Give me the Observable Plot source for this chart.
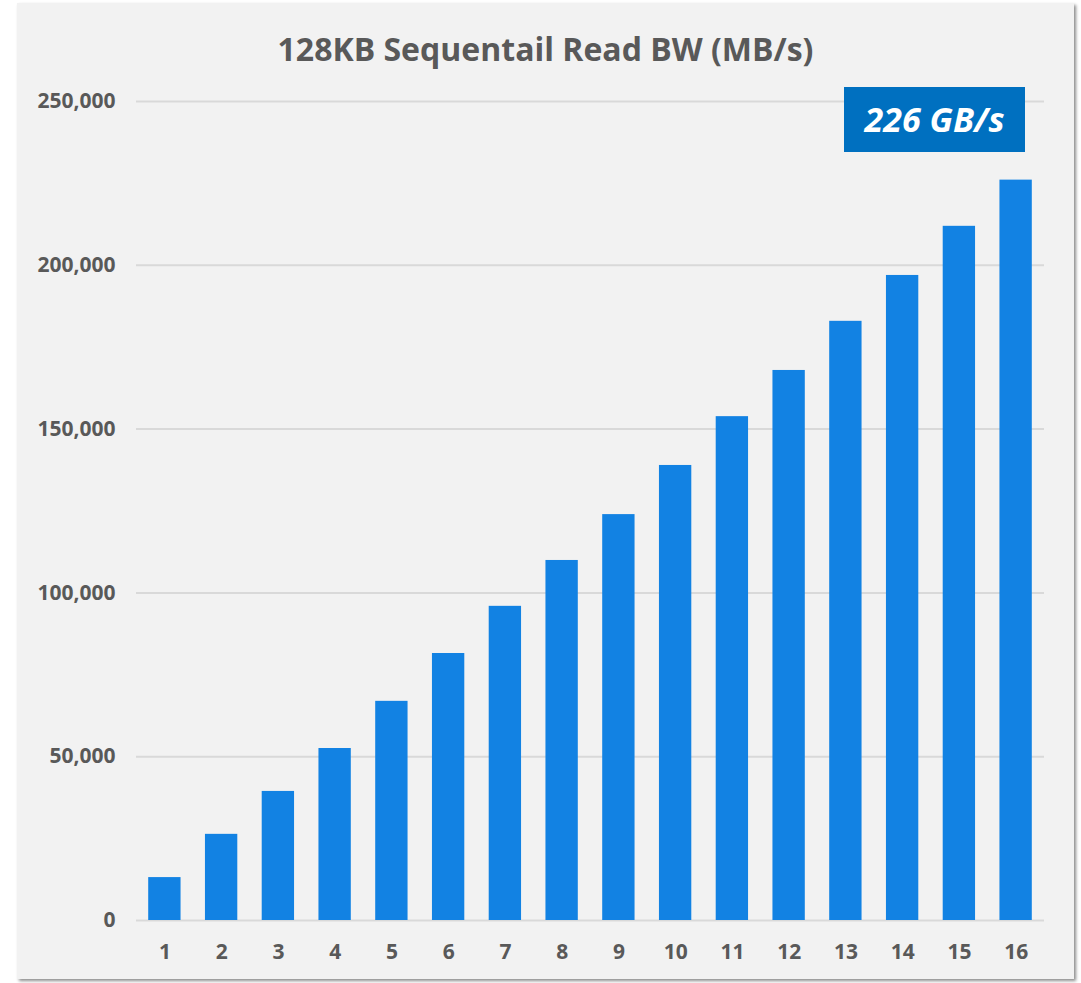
<!DOCTYPE html>
<html>
<head>
<meta charset="utf-8">
<script src="https://cdn.jsdelivr.net/npm/d3@7"></script>
<script src="https://cdn.jsdelivr.net/npm/@observablehq/plot@0.6"></script>
<style>
  html, body { margin: 0; padding: 0; background: #ffffff; width: 1081px; height: 983px; overflow: hidden; }
  #panel { position: absolute; left: 17px; top: 3px; width: 1057px; height: 976px; background: #f2f2f2;
           box-shadow: 2px 2px 3px rgba(0,0,0,0.45); }
  #title { position: absolute; left: 0; width: 100%; top: 25px; text-align: center;
           font-family: "Open Sans", sans-serif; font-weight: 700; font-size: 32px; color: #595959; line-height: 42px; }
  #chart { position: absolute; left: 0; top: 0; }
  #badge { position: absolute; left: 827px; top: 84px; width: 181px; height: 65px; background: #0070c0;
           color: #ffffff; font-family: "Open Sans", sans-serif; font-weight: 700; font-style: italic;
           font-size: 34px; line-height: 65px; text-align: center; }
</style>
</head>
<body>
<div id="panel">
  <div id="chart"></div>
  <div id="title"></div>
  <div id="badge"></div>
</div>
<script>
const titleText = "128KB Sequentail Read BW (MB/s)";
const badgeText = "226 GB/s";
const categories = ["1","2","3","4","5","6","7","8","9","10","11","12","13","14","15","16"];
const bandwidth = [13100, 26300, 39400, 52500, 66900, 81500, 95900, 109900, 123900, 138900, 153800, 167900, 182900, 196900, 211900, 226000];
const yTicks = [0, 50000, 100000, 150000, 200000, 250000];

const data = categories.map((c, i) => ({cat: c, value: bandwidth[i]}));

document.getElementById("title").textContent = titleText;
document.getElementById("badge").textContent = badgeText;

const chart = Plot.plot({
  width: 1057,
  height: 976,
  marginLeft: 119,
  marginRight: 30,
  marginTop: 98,
  marginBottom: 59,
  style: {background: "transparent", fontFamily: "'Open Sans', sans-serif", fontWeight: 700, fontSize: "21px", color: "#595959"},
  x: {domain: categories, paddingInner: 0.43, paddingOuter: 0.215, round: false, label: null},
  y: {domain: [0, 250000], label: null},
  marks: [
    Plot.gridY(yTicks, {stroke: "#d9d9d9", strokeWidth: 2, strokeOpacity: 1}),
    Plot.barY(data, {x: "cat", y: "value", fill: "#1282e3"}),
    Plot.axisX({tickSize: 0, tickPadding: 24, fontSize: 21, fontWeight: 700, label: null}),
    Plot.axisY({ticks: yTicks, tickSize: 0, tickPadding: 21, tickFormat: d3.format(","), fontSize: 21, fontWeight: 700, label: null})
  ]
});
document.getElementById("chart").appendChild(chart);
</script>
</body>
</html>
